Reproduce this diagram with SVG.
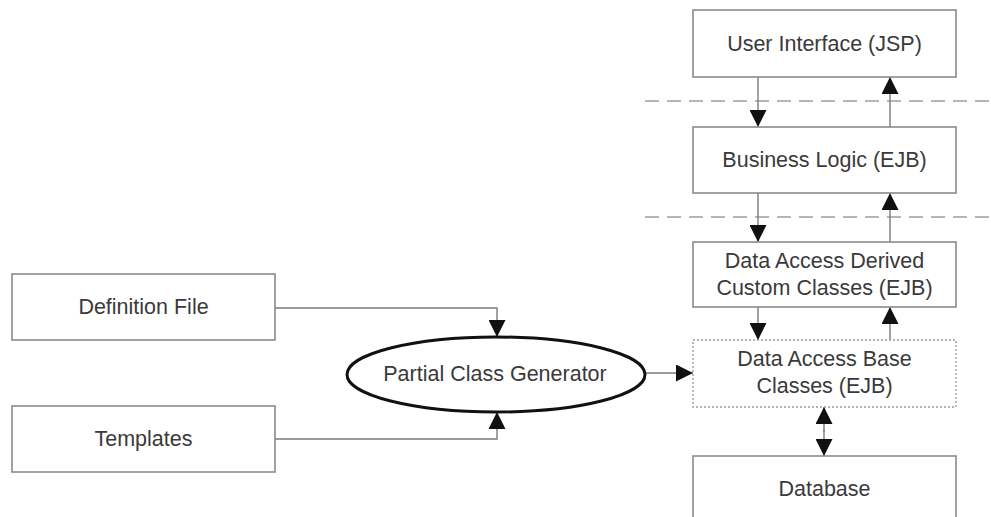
<svg xmlns="http://www.w3.org/2000/svg" width="991" height="517" viewBox="0 0 991 517">
  <style>
    .box { fill: #ffffff; stroke: #8a8a8a; stroke-width: 1.6; }
    .box-dotted { fill: #ffffff; stroke: #9a9a9a; stroke-width: 1.4; stroke-dasharray: 2 2; }
    .label { font-family: "Liberation Sans", Arial, sans-serif; font-size: 21.5px; fill: #3a3a3a; text-anchor: middle; dominant-baseline: central; }
    .tier { stroke: #9e9e9e; stroke-width: 1.6; stroke-dasharray: 14 8; fill: none; }
    .link { stroke: #7a7a7a; stroke-width: 1.4; fill: none; }
  </style>
  <defs>
    <marker id="arrow" viewBox="0 0 10 10" refX="10" refY="5" markerWidth="17" markerHeight="17" markerUnits="userSpaceOnUse" orient="auto">
      <path d="M0,0 L10,5 L0,10 Z" fill="#111111"/>
    </marker>
  </defs>

  <rect width="991" height="517" fill="#ffffff"/>

  <!-- tier separators -->
  <g id="tiers">
    <line class="tier" x1="645" y1="101" x2="991" y2="101"/>
    <line class="tier" x1="645" y1="217" x2="991" y2="217"/>
  </g>

  <!-- connectors -->
  <g id="connectors">
    <line class="link" x1="758" y1="77" x2="758" y2="127" marker-end="url(#arrow)"/>
    <line class="link" x1="890" y1="127" x2="890" y2="77" marker-end="url(#arrow)"/>
    <line class="link" x1="758" y1="193" x2="758" y2="242" marker-end="url(#arrow)"/>
    <line class="link" x1="890" y1="242" x2="890" y2="193" marker-end="url(#arrow)"/>
    <line class="link" x1="758" y1="307" x2="758" y2="340" marker-end="url(#arrow)"/>
    <line class="link" x1="890" y1="340" x2="890" y2="307" marker-end="url(#arrow)"/>
    <line class="link" x1="824" y1="432" x2="824" y2="407" marker-end="url(#arrow)"/>
    <line class="link" x1="824" y1="430" x2="824" y2="456" marker-end="url(#arrow)"/>
    <polyline class="link" points="275,308 497,308 497,337" marker-end="url(#arrow)"/>
    <polyline class="link" points="275,439 497,439 497,412" marker-end="url(#arrow)"/>
    <line class="link" x1="645" y1="373" x2="693" y2="373" marker-end="url(#arrow)"/>
  </g>

  <g id="user-interface">
    <rect class="box" x="693" y="10" width="263" height="67"/>
    <text class="label" x="824.5" y="43.5">User Interface (JSP)</text>
  </g>

  <g id="business-logic">
    <rect class="box" x="693" y="127" width="263" height="66"/>
    <text class="label" x="824.5" y="160">Business Logic (EJB)</text>
  </g>

  <g id="derived-classes">
    <rect class="box" x="693" y="242" width="263" height="65"/>
    <text class="label" x="824.5" y="261">Data Access Derived</text>
    <text class="label" x="824.5" y="288">Custom Classes (EJB)</text>
  </g>

  <g id="base-classes">
    <rect class="box-dotted" x="693" y="340" width="263" height="67"/>
    <text class="label" x="824.5" y="359">Data Access Base</text>
    <text class="label" x="824.5" y="386">Classes (EJB)</text>
  </g>

  <g id="database">
    <rect class="box" x="693" y="456" width="263" height="70"/>
    <text class="label" x="824.5" y="489">Database</text>
  </g>

  <g id="definition-file">
    <rect class="box" x="12" y="274" width="263" height="66"/>
    <text class="label" x="143.5" y="307">Definition File</text>
  </g>

  <g id="templates">
    <rect class="box" x="12" y="406" width="263" height="66"/>
    <text class="label" x="143.5" y="439">Templates</text>
  </g>

  <g id="generator">
    <ellipse cx="496" cy="374.5" rx="149" ry="37.5" fill="#ffffff" stroke="#111111" stroke-width="3"/>
    <text class="label" x="495" y="374">Partial Class Generator</text>
  </g>
</svg>
